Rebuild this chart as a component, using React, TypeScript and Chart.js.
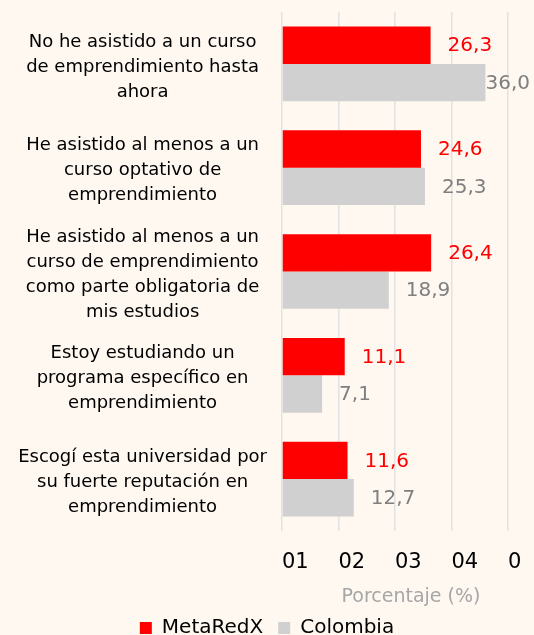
import React, { useEffect, useRef } from 'react';
import { Chart, registerables } from 'chart.js';

Chart.register(...registerables);

const categories: string[][] = [
  ['No he asistido a un curso', 'de emprendimiento hasta', 'ahora'],
  ['He asistido al menos a un', 'curso optativo de', 'emprendimiento'],
  ['He asistido al menos a un', 'curso de emprendimiento', 'como parte obligatoria de', 'mis estudios'],
  ['Estoy estudiando un', 'programa específico en', 'emprendimiento'],
  ['Escogí esta universidad por', 'su fuerte reputación en', 'emprendimiento'],
];
const seriesNames = ['MetaRedX', 'Colombia'];
const metaRedX = [26.3, 24.6, 26.4, 11.1, 11.6];
const colombia = [36.0, 25.3, 18.9, 7.1, 12.7];
const xTickLabels = ['01', '02', '03', '04', '0'];
const axisTitle = 'Porcentaje (%)';

const FONT = '"DejaVu Sans", sans-serif';
const BG = '#FEF8F1';
const RED = '#FF0000';
const GRAY_BAR = '#D0D0D0';
const GRAY_TEXT = '#7F7F7F';
const labelColors = [RED, GRAY_TEXT];

const valueLabels = {
  id: 'valueLabels',
  afterDatasetsDraw(chart: any) {
    const ctx = chart.ctx;
    ctx.save();
    ctx.font = `20px ${FONT}`;
    ctx.textBaseline = 'middle';
    ctx.textAlign = 'left';
    chart.data.datasets.forEach((ds: any, di: number) => {
      const meta = chart.getDatasetMeta(di);
      meta.data.forEach((bar: any, i: number) => {
        const text = Number(ds.data[i]).toFixed(1).replace('.', ',');
        const w = ctx.measureText(text).width;
        let x = bar.x + 17;
        if (x + w > chart.width - 4) x = chart.width - 4 - w;
        ctx.fillStyle = labelColors[di];
        ctx.fillText(text, x, bar.y + 1);
      });
    });
    ctx.restore();
  },
};

const axisTitlePlugin = {
  id: 'axisTitlePlugin',
  afterDraw(chart: any) {
    const ctx = chart.ctx;
    const a = chart.chartArea;
    ctx.save();
    ctx.font = `19px ${FONT}`;
    ctx.fillStyle = '#A6A6A6';
    ctx.textAlign = 'center';
    ctx.textBaseline = 'middle';
    ctx.fillText(axisTitle, (a.left + a.right) / 2 + 16, a.bottom + 66);
    ctx.restore();
  },
};

export default function App() {
  const ref = useRef<HTMLCanvasElement | null>(null);

  useEffect(() => {
    document.body.style.margin = '0';
    if (!ref.current) return;
    const chart = new Chart(ref.current, {
      type: 'bar',
      data: {
        labels: categories,
        datasets: [
          { label: seriesNames[0], data: metaRedX, backgroundColor: RED },
          { label: seriesNames[1], data: colombia, backgroundColor: GRAY_BAR },
        ],
      },
      options: {
        indexAxis: 'y',
        animation: false,
        responsive: true,
        maintainAspectRatio: false,
        layout: { padding: { top: 12, right: 0, left: 0, bottom: 0 } },
        datasets: { bar: { categoryPercentage: 0.72, barPercentage: 1 } },
        scales: {
          x: {
            min: 0,
            max: 40,
            ticks: {
              stepSize: 10,
              align: 'start',
              color: '#000',
              font: { size: 21, family: FONT },
              padding: 19,
              callback: (_v: any, i: number) => xTickLabels[i],
            },
            grid: { color: '#E2E2E2', lineWidth: 1.5, drawTicks: false },
            border: { display: false },
            afterFit: (s: any) => {
              s.height = 72;
              s.paddingLeft = 0;
              s.paddingRight = 26;
            },
          },
          y: {
            ticks: {
              autoSkip: false,
              crossAlign: 'center',
              color: '#000',
              font: { size: 18, family: FONT, lineHeight: 25 / 18 },
              padding: 7,
              labelOffset: 3,
            },
            grid: { display: false },
            border: { display: false },
            afterFit: (s: any) => {
              s.width = 282;
              s.paddingTop = 0;
              s.paddingBottom = 0;
            },
          },
        },
        plugins: {
          legend: {
            position: 'bottom',
            labels: {
              boxWidth: 12,
              boxHeight: 12,
              color: '#000',
              font: { size: 20, family: FONT },
              padding: 15,
            },
          },
          tooltip: { enabled: false },
        },
      } as any,
      plugins: [valueLabels, axisTitlePlugin],
    });
    return () => chart.destroy();
  }, []);

  return (
    <div style={{ width: 534, height: 635, overflow: 'hidden', background: BG, position: 'relative' }}>
      <div style={{ width: 534, height: 648, position: 'relative' }}>
        <canvas ref={ref} />
      </div>
    </div>
  );
}
